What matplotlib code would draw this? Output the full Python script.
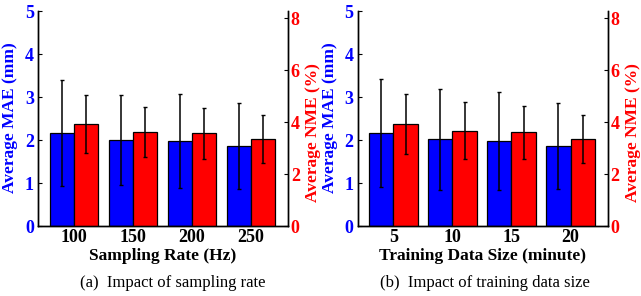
import numpy as np
import matplotlib
matplotlib.use("Agg")
import matplotlib.pyplot as plt

plt.rcParams["font.family"] = ["Liberation Serif", "DejaVu Serif"]

# panel (a): sampling rate
rate_labels = ["100", "150", "200", "250"]
rate_mae = [2.17, 2.01, 1.98, 1.86]
rate_mae_std = [1.24, 1.04, 1.09, 1.00]
rate_nme = [3.93, 3.64, 3.58, 3.37]
rate_nme_std = [1.10, 0.96, 0.98, 0.92]

# panel (b): training data size
size_labels = ["5", "10", "15", "20"]
size_mae = [2.17, 2.02, 1.98, 1.86]
size_mae_std = [1.26, 1.18, 1.14, 1.00]
size_nme = [3.93, 3.67, 3.61, 3.37]
size_nme_std = [1.17, 1.10, 1.01, 0.92]

fig = plt.figure(figsize=(6.41, 2.96), dpi=100)

W, H = 641, 296


def panel(left_px, labels, mae, mae_std, nme, nme_std, xlabel, caption, cap_x):
    ax = fig.add_axes([left_px / W, (H - 226.3) / H, 250 / W, 215 / H])
    ax2 = ax.twinx()
    x = np.arange(1, len(labels) + 1)
    w = 0.41
    ax.bar(x - w / 2, mae, w, color="blue", edgecolor="black", linewidth=0.9, zorder=2)
    ax.errorbar(x - w / 2, mae, yerr=mae_std, fmt="none", ecolor="black",
                elinewidth=1.1, capsize=1.5, capthick=1.0, zorder=3)
    ax2.bar(x + w / 2, nme, w, color="red", edgecolor="black", linewidth=0.9, zorder=2)
    ax2.errorbar(x + w / 2, nme, yerr=nme_std, fmt="none", ecolor="black",
                 elinewidth=1.1, capsize=1.5, capthick=1.0, zorder=3)

    ax.set_xlim(0.395, 4.63)
    ax.set_ylim(0, 5)
    ax2.set_ylim(0, 8.26)
    ax.set_yticks([0, 1, 2, 3, 4, 5])
    ax2.set_yticks([0, 2, 4, 6, 8])
    ax.set_xticks(x)
    ax.set_xticklabels(labels)

    for a in (ax, ax2):
        a.spines["top"].set_visible(False)
        for s in a.spines.values():
            s.set_linewidth(1.0)
    ax.tick_params(axis="x", length=0, labelsize=13, pad=2)
    for t in ax.get_xticklabels():
        t.set_fontweight("bold")
    ax.tick_params(axis="y", direction="in", length=3, labelsize=13,
                   labelcolor="blue", pad=3)
    ax2.tick_params(axis="y", direction="in", length=3, labelsize=13,
                    labelcolor="red", pad=2)
    for t in ax.get_yticklabels():
        t.set_fontweight("bold")
    for t in ax2.get_yticklabels():
        t.set_fontweight("bold")

    ax.set_xlabel(xlabel, fontsize=12.5, fontweight="bold")
    ax.xaxis.set_label_coords(0.5, -0.10)
    ax.set_ylabel("Average MAE (mm)", fontsize=12.5, fontweight="bold", color="blue")
    ax.yaxis.set_label_coords(-0.08, 0.505)
    ax2.set_ylabel("Average NME (%)", fontsize=12.5, fontweight="bold", color="red")
    ax2.yaxis.set_label_coords(1.068, 0.435)

    fig.text(cap_x / W, 1 - 283 / H, caption, fontsize=12, ha="center", va="center")


panel(38, rate_labels, rate_mae, rate_mae_std, rate_nme, rate_nme_std,
      "Sampling Rate (Hz)", "(a)  Impact of sampling rate", 173)
panel(357.7, size_labels, size_mae, size_mae_std, size_nme, size_nme_std,
      "Training Data Size (minute)", "(b)  Impact of training data size", 485)

fig.savefig("out.png", dpi=100)
